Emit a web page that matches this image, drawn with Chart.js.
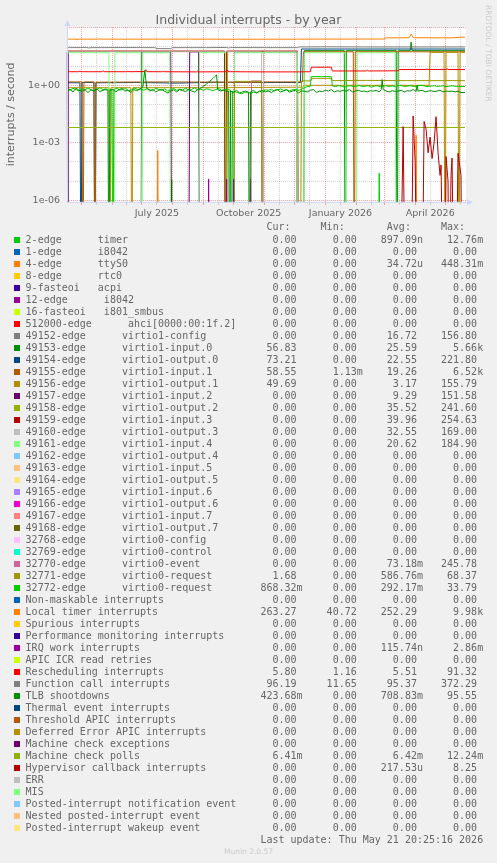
<!DOCTYPE html>
<html><head><meta charset="utf-8">
<script src="https://cdn.jsdelivr.net/npm/chart.js@4/dist/chart.umd.min.js"></script>
<style>
html,body{margin:0;padding:0;background:#f0f0f0;}
body{width:497px;height:863px;position:relative;overflow:hidden;color:#666;font-family:"DejaVu Sans";}
#chartBox{position:absolute;left:0;top:0;width:497px;height:222px;}
#title{position:absolute;left:0;top:12px;width:497px;text-align:center;font:12.5px "DejaVu Sans";line-height:15px;color:#666;white-space:nowrap;}
#rrd{position:absolute;left:484px;top:5px;writing-mode:vertical-rl;font:7.5px "DejaVu Sans";color:#ccc;white-space:nowrap;line-height:8px;}
.row{position:absolute;left:25.6px;font:10px "DejaVu Sans Mono";line-height:12px;white-space:pre;color:#666;}
.sq{position:absolute;left:14px;width:6px;height:6px;}
#munin{position:absolute;left:0;width:497px;top:847px;text-align:center;font:7.5px "DejaVu Sans";color:#ccc;line-height:10px;}
</style></head>
<body>
<div id="chartBox"><canvas id="c" width="497" height="222"></canvas></div>
<div id="title">Individual interrupts - by year</div>
<div id="rrd">RRDTOOL / TOBI OETIKER</div>
<div id="legend"></div>
<div id="munin">Munin 2.0.57</div>
<script>
// ---------- x axis (days since start of the 400-day window, Apr 16 2025 20:25) ----------
const monthStartDays = [14.15, 45.15, 75.15, 106.15, 137.15, 167.15, 198.15, 228.15, 259.15, 290.15, 318.15, 349.15, 379.15];
const midMonthDays   = [29.15, 60.15, 90.15, 121.15, 152.15, 182.15, 213.15, 243.15, 274.15, 305.15, 333.15, 364.15, 394.15];
const xLabelDays = [90.15, 182.15, 274.15, 364.15];
const xLabels = ["July 2025", "October 2025", "January 2026", "April 2026"];
// ---------- y axis ----------
const yDecades = [1e-6, 1e-5, 1e-4, 1e-3, 1e-2, 1e-1, 1, 10, 100, 1000];
const yLabelValues = [1e-6, 1e-3, 1];
const yLabels = ["1e-06", "1e-03", "1e+00"];

// ---------- legend ----------
const seriesNames = [
 "2-edge      timer","1-edge      i8042","4-edge      ttyS0","8-edge      rtc0","9-fasteoi   acpi",
 "12-edge      i8042","16-fasteoi   i801_smbus","512000-edge      ahci[0000:00:1f.2]",
 "49152-edge      virtio1-config","49153-edge      virtio1-input.0","49154-edge      virtio1-output.0",
 "49155-edge      virtio1-input.1","49156-edge      virtio1-output.1","49157-edge      virtio1-input.2",
 "49158-edge      virtio1-output.2","49159-edge      virtio1-input.3","49160-edge      virtio1-output.3",
 "49161-edge      virtio1-input.4","49162-edge      virtio1-output.4","49163-edge      virtio1-input.5",
 "49164-edge      virtio1-output.5","49165-edge      virtio1-input.6","49166-edge      virtio1-output.6",
 "49167-edge      virtio1-input.7","49168-edge      virtio1-output.7","32768-edge      virtio0-config",
 "32769-edge      virtio0-control","32770-edge      virtio0-event","32771-edge      virtio0-request",
 "32772-edge      virtio0-request","Non-maskable interrupts","Local timer interrupts","Spurious interrupts",
 "Performance monitoring interrupts","IRQ work interrupts","APIC ICR read retries","Rescheduling interrupts",
 "Function call interrupts","TLB shootdowns","Thermal event interrupts","Threshold APIC interrupts",
 "Deferred Error APIC interrupts","Machine check exceptions","Machine check polls","Hypervisor callback interrupts",
 "ERR","MIS","Posted-interrupt notification event","Nested posted-interrupt event","Posted-interrupt wakeup event"];
const seriesColors = [
 "#00CC00","#0066B3","#FF8000","#FFCC00","#330099","#990099","#CCFF00","#FF0000","#808080","#008F00",
 "#00487D","#B35A00","#B38F00","#6B006B","#8FB300","#B30000","#BEBEBE","#80FF80","#80C9FF","#FFC080",
 "#FFE680","#AA80FF","#EE00CC","#FF8080","#666600","#FFBFFF","#00FFCC","#CC6699","#999900","#00CC00",
 "#0066B3","#FF8000","#FFCC00","#330099","#990099","#CCFF00","#FF0000","#808080","#008F00","#00487D",
 "#B35A00","#B38F00","#6B006B","#8FB300","#B30000","#BEBEBE","#80FF80","#80C9FF","#FFC080","#FFE680"];
const curValues = ["0.00","0.00","0.00","0.00","0.00","0.00","0.00","0.00","0.00","56.83","73.21","58.55","49.69","0.00","0.00","0.00","0.00","0.00","0.00","0.00","0.00","0.00","0.00","0.00","0.00","0.00","0.00","0.00","1.68","868.32m","0.00","263.27","0.00","0.00","0.00","0.00","5.80","96.19","423.68m","0.00","0.00","0.00","0.00","6.41m","0.00","0.00","0.00","0.00","0.00","0.00"];
const minValues = ["0.00","0.00","0.00","0.00","0.00","0.00","0.00","0.00","0.00","0.00","0.00","1.13m","0.00","0.00","0.00","0.00","0.00","0.00","0.00","0.00","0.00","0.00","0.00","0.00","0.00","0.00","0.00","0.00","0.00","0.00","0.00","40.72","0.00","0.00","0.00","0.00","1.16","11.65","0.00","0.00","0.00","0.00","0.00","0.00","0.00","0.00","0.00","0.00","0.00","0.00"];
const avgValues = ["897.09n","0.00","34.72u","0.00","0.00","0.00","0.00","0.00","16.72","25.59","22.55","19.26","3.17","9.29","35.52","39.96","32.55","20.62","0.00","0.00","0.00","0.00","0.00","0.00","0.00","0.00","0.00","73.18m","586.76m","292.17m","0.00","252.29","0.00","0.00","115.74n","0.00","5.51","95.37","708.83m","0.00","0.00","0.00","0.00","6.42m","217.53u","0.00","0.00","0.00","0.00","0.00"];
const maxValues = ["12.76m","0.00","448.31m","0.00","0.00","0.00","0.00","0.00","156.80","5.66k","221.80","6.52k","155.79","151.58","241.60","254.63","169.00","184.90","0.00","0.00","0.00","0.00","0.00","0.00","0.00","0.00","0.00","245.78","68.37","33.79","0.00","9.98k","0.00","0.00","2.86m","0.00","91.32","372.29","95.55","0.00","0.00","0.00","0.00","12.24m","8.25","0.00","0.00","0.00","0.00","0.00"];
const lastUpdate = "Last update: Thu May 21 20:25:16 2026";

// ---------- series values: [day, interrupts/second] ----------
const zeroSeries = [[0,0],[399,0]];
const edge2Timer = [[0,0],[27,0],[28,1.5e-5],[29,0],[104,0],[105,1.2e-5],[106,0],[312,0],[313,2.6e-5],[314,0],[399,0]];
const edge4Ttys0 = [[0,0],[90,0],[91,4e-4],[92,0],[349,0],[350,2.5e-3],[351,0],[399,0]];
const v49153 = [[0,0],[237,0],[238,64],[278,64],[279,0],[280,64],[330,64],[331,0],[332,64],[344,64],[345,180],[346,64],[399,64]];
const v49154 = [[0,1.35],[13,1.35],[14,0],[15,1.4],[27,1.4],[28,0],[29,1.35],[70,1.4],[110,1.3],[150,1.45],[200,1.4],[234,1.4],[235,78],[399,78]];
const v49155 = [[0,1.5],[15,1.5],[16,0],[17,1.5],[27,1.5],[28,0],[29,1.45],[100,1.5],[158,1.45],[159,0],[160,1.45],[195,1.45],[196,0],[197,1.5],[236,1.5],[237,56],[287,56],[288,0],[289,56],[399,56]];
const v49156 = [[0,0.75],[42,0.75],[43,0],[44,0.75],[64,0.75],[65,0],[66,0.75],[158,0.75],[159,0],[160,0.75],[236,0.8],[238,1.0],[363,1.0],[364,52],[378,52],[379,0],[380,52],[392,52],[393,0],[394,52],[399,52]];
const v49157 = [[0,55],[1,0],[74,0],[75,55],[104,55],[105,0],[122,0],[123,55],[132,55],[133,0],[167,0],[168,55],[230,55],[231,0],[399,0]];
const v49158 = [[0,58],[158,58],[159,0],[160,0],[161,58],[231,58],[232,0],[399,0]];
const v49159 = [[0,61],[158,61],[159,0],[160,61],[231,61],[232,0],[399,0]];
const v49160 = [[0,56],[195,56],[196,0],[197,56],[231,56],[232,0],[399,0]];
const v49161 = [[0,50],[42,50],[43,0],[47,0],[48,50],[74,50],[75,0],[76,50],[103,50],[104,0],[132,0],[133,50],[159,50],[160,0],[167,0],[168,50],[230,50],[231,0],[237,0],[238,50],[279,50],[280,0],[290,0],[291,50],[329,50],[330,0],[399,0]];
const v32770 = [[0,0],[184,0],[185,1.7],[195,1.7],[196,0],[399,0]];
const v32771 = [[0,0],[167,0],[168,1.6],[195,1.6],[196,0],[234,0],[235,1.7],[244,1.7],[245,2.3],[265,2.3],[266,1.75],[300,1.8],[340,1.75],[399,1.75]];
const v32772 = [[0,0.65],[3,0.55],[6,0.7],[9,0.6],[12,0.5],[15,0.68],[18,0.58],[21,0.72],[24,0.6],[27,0.52],[30,0.62],[33,0.75],[36,0.58],[39,0.66],[42,0.55],[45,0.6],[46,0],[47,0.6],[50,0.7],[53,0.55],[56,0.62],[59,0.68],[62,0.52],[65,0.6],[68,0.72],[71,0.58],[74,0.64],[77,0.55],[80,0.66],[83,0.6],[86,0.52],[89,0.7],[92,0.6],[95,0.55],[98,0.65],[101,0.5],[104,0.6],[107,0.68],[110,0.55],[113,0.62],[116,0.58],[119,0.7],[122,0.55],[125,0.6],[128,0.75],[131,0.58],[134,0.62],[137,0.55],[140,0.66],[143,0.6],[146,0.52],[149,0.6],[152,0.68],[155,0.55],[158,0.6],[161,0.62],[164,0.55],[165,0],[166,0.5],[169,0.45],[172,0.4],[175,0.36],[178,0.42],[181,0.45],[184,0.38],[187,0.44],[190,0.4],[193,0.5],[196,0.45],[199,0.58],[202,0.55],[205,0.62],[208,0.5],[211,0.58],[214,0.65],[217,0.55],[220,0.6],[223,0.52],[226,0.58],[229,0.62],[232,0.55],[235,0.6],[238,0.75],[241,0.85],[244,0.9],[245,2.8],[250,2.9],[255,2.8],[260,2.85],[265,2.8],[266,0.95],[269,0.85],[272,0.95],[275,0.9],[278,0.8],[281,0.9],[284,0.95],[287,0.85],[290,0.9],[293,1.0],[296,0.85],[299,0.9],[302,0.95],[305,0.8],[308,0.9],[311,0.95],[314,0.85],[317,0.9],[320,0.95],[323,0.85],[326,0.92],[329,0.88],[332,0.95],[335,1.0],[338,0.85],[341,0.9],[344,0.95],[347,0.88],[350,0.9],[353,0.95],[356,1.0],[359,0.9],[362,0.85],[365,0.92],[368,0.95],[371,0.88],[374,0.9],[377,0.95],[380,0.85],[383,0.9],[386,0.95],[389,0.88],[392,0.9],[395,0.85],[399,0.87]];
const localTimer = [[0,255],[8,258],[10,248],[12,256],[30,256],[32,266],[34,255],[55,257],[57,248],[59,256],[80,255],[95,258],[97,250],[99,256],[120,255],[122,263],[124,255],[150,256],[170,252],[172,260],[174,252],[200,255],[230,254],[232,262],[234,255],[260,258],[285,257],[287,266],[289,258],[318,260],[320,298],[335,300],[343,305],[345,470],[347,305],[365,300],[385,298],[392,315],[396,325],[399,318]];
const irqWork = [[0,0],[141,0],[142,1.3e-5],[143,0],[159,0],[160,1.3e-5],[161,0],[166,0],[167,1.3e-5],[168,0],[183,0],[184,1.3e-5],[185,0],[399,0]];
const rescheduling = [[0,5.1],[12,5.1],[13,5.6],[14,5.1],[35,5.1],[36,5.8],[37,5.1],[60,5.1],[61,5.5],[62,5.1],[78,5.2],[79,6.5],[80,5.1],[95,5.1],[96,5.6],[97,5.1],[130,5.0],[131,5.5],[132,5.0],[160,5.1],[161,6.2],[162,5.1],[200,5.0],[230,5.0],[244,5.1],[245,8.8],[265,8.8],[266,5.6],[300,5.6],[301,6.1],[302,5.6],[332,5.7],[333,6.6],[360,6.7],[361,7.2],[362,6.7],[380,6.7],[381,7.3],[382,6.7],[399,6.6]];
const functionCall = [[0,92],[20,93],[22,88],[24,92],[60,93],[88,92],[90,82],[104,82],[106,92],[140,92],[160,94],[162,88],[164,93],[200,92],[231,92],[233,100],[260,102],[300,100],[399,100]];
const tlbShootdowns = [[0,0.5],[3,0.62],[6,0.45],[9,0.7],[12,0.55],[15,0.48],[18,0.6],[21,0.42],[24,0.58],[27,0.5],[30,0.65],[33,0.47],[36,0.55],[39,0.6],[41,0.5],[42,0],[43,0.55],[46,0.62],[49,0.45],[52,0.58],[55,0.7],[58,0.5],[61,0.55],[64,0.42],[67,0.6],[70,0.52],[73,0.65],[76,0.8],[78,6],[80,0.7],[83,0.5],[86,0.6],[89,0.45],[92,0.55],[95,0.62],[98,0.48],[101,0.4],[104,0.5],[107,0.58],[110,0.45],[113,0.6],[116,0.52],[119,0.48],[122,0.62],[125,0.5],[128,0.45],[131,0.6],[134,0.7],[137,0.9],[140,1.2],[143,1.6],[146,2.2],[148,2.8],[150,3.5],[151,0.6],[154,0.5],[157,0.55],[160,0.48],[162,0.5],[163,0],[164,0.5],[167,0.42],[170,0.55],[173,0.4],[176,0.45],[179,0.5],[182,0.42],[183,0],[184,0.45],[187,0.55],[190,0.4],[193,0.48],[196,0.52],[199,0.45],[202,0.5],[205,0.42],[208,0.55],[211,0.6],[214,0.45],[217,0.5],[220,0.58],[223,0.44],[226,0.5],[229,0.55],[232,0.4],[235,0.5],[238,0.5],[241,0.45],[244,0.55],[247,0.6],[250,0.42],[253,0.5],[256,0.47],[259,0.55],[262,0.5],[265,0.6],[268,0.45],[271,0.52],[274,0.48],[277,0.55],[280,0.5],[283,0.6],[286,0.45],[289,0.5],[292,0.55],[295,0.48],[298,0.5],[301,0.45],[304,0.52],[307,0.5],[310,0.55],[313,0.45],[315,0.6],[316,2.0],[317,0.6],[320,0.5],[323,0.45],[326,0.52],[329,0.48],[332,0.5],[335,0.55],[338,0.45],[341,0.52],[344,0.5],[347,0.6],[350,0.48],[351,1.0],[352,0.5],[356,0.55],[359,0.45],[362,0.5],[365,0.52],[368,0.47],[371,0.5],[374,0.55],[377,0.45],[380,0.5],[383,0.48],[386,0.5],[389,0.45],[392,0.5],[395,0.42],[399,0.42]];
const machineCheckPolls = [[0,0.0063],[399,0.0063]];
const hypervisorCallback = [[0,0],[334,0],[337,0.007],[339,0],[345,0],[347,0.025],[349,1e-4],[351,0],[356,0],[358,0.013],[360,0.005],[362,3e-4],[364,0.002],[366,1.5e-4],[368,0.001],[370,0.023],[372,3e-4],[374,2e-5],[375,7e-5],[377,0],[379,0],[380,1.9e-4],[382,1e-5],[383,0],[385,2e-5],[386,1.6e-4],[388,0],[390,0],[392,2.8e-4],[394,5e-5],[395,2e-5],[396,0],[399,0]];

const seriesData = [
 edge2Timer, zeroSeries, edge4Ttys0, zeroSeries, zeroSeries, zeroSeries, zeroSeries, zeroSeries,
 zeroSeries, v49153, v49154, v49155, v49156, v49157, v49158, v49159, v49160, v49161,
 zeroSeries, zeroSeries, zeroSeries, zeroSeries, zeroSeries, zeroSeries, zeroSeries, zeroSeries, zeroSeries,
 v32770, v32771, v32772,
 zeroSeries, localTimer, zeroSeries, zeroSeries, irqWork, zeroSeries, rescheduling, functionCall, tlbShootdowns,
 zeroSeries, zeroSeries, zeroSeries, zeroSeries, machineCheckPolls, hypervisorCallback,
 zeroSeries, zeroSeries, zeroSeries, zeroSeries, zeroSeries];

// ---------- legend DOM ----------
(function(){
  const lg = document.getElementById('legend');
  function field(s){ let suf=' ', num=s; const last=s[s.length-1]; if(/[a-zA-Z]/.test(last)){suf=last;num=s.slice(0,-1);} return num.padStart(6,' ')+suf; }
  function addRow(text, top){ const d=document.createElement('div'); d.className='row'; d.style.top=top+'px'; d.textContent=text; lg.appendChild(d); }
  addRow(' '.repeat(40)+'Cur:'+' '.repeat(5)+'Min:'+' '.repeat(7)+'Avg:'+' '.repeat(5)+'Max:', 221);
  seriesNames.forEach((n,i)=>{
    const c = 240 + 12*i;
    const sq=document.createElement('div'); sq.className='sq'; sq.style.top=(c-3)+'px'; sq.style.background=seriesColors[i]; lg.appendChild(sq);
    addRow(n.padEnd(39,' ')+field(curValues[i])+'   '+field(minValues[i])+'   '+field(avgValues[i])+'   '+field(maxValues[i]), c-6);
  });
  addRow(' '.repeat(39)+lastUpdate, 240+12*50-6);
})();

// ---------- chart ----------
const MAJOR = 'rgba(255,0,0,0.38)', MINOR = 'rgba(128,128,128,0.35)', AXIS = '#CFD6F8';
const isMonthStart = v => monthStartDays.some(m => Math.abs(m - v) < 0.01);
const isMajorY = v => yLabelValues.some(m => Math.abs(Math.log10(m) - Math.log10(v)) < 1e-6) || Math.abs(v-1000)<1e-6;

const bgPlugin = {
  id: 'bg',
  beforeDraw(ch){ const a=ch.chartArea, c=ch.ctx; c.save(); c.fillStyle='#fff'; c.fillRect(a.left,a.top,a.right-a.left,a.bottom-a.top); c.restore(); },
  afterDraw(ch){ const a=ch.chartArea, c=ch.ctx; c.save(); c.strokeStyle=AXIS; c.fillStyle=AXIS; c.lineWidth=1;
    c.beginPath(); c.moveTo(a.left+0.5, a.bottom); c.lineTo(a.left+0.5, a.top-3); c.stroke();
    c.beginPath(); c.moveTo(a.left, a.bottom+0.5); c.lineTo(a.right+3, a.bottom+0.5); c.stroke();
    c.beginPath(); c.moveTo(a.left+0.5, a.top-7); c.lineTo(a.left-2.5, a.top-1); c.lineTo(a.left+3.5, a.top-1); c.closePath(); c.fill();
    c.beginPath(); c.moveTo(a.right+7, a.bottom+0.5); c.lineTo(a.right+1, a.bottom-2.5); c.lineTo(a.right+1, a.bottom+3.5); c.closePath(); c.fill();
    c.restore(); }
};

const datasets = seriesData.map((pts, i) => ({
  label: seriesNames[i],
  data: pts.map(p => ({x: p[0], y: p[1] === 0 ? 1e-12 : p[1]})),
  borderColor: seriesColors[i], backgroundColor: seriesColors[i],
  borderWidth: 1, pointRadius: 0, tension: 0, fill: false, order: -i, clip: 0.5
}));

new Chart(document.getElementById('c'), {
  type: 'line',
  data: { datasets },
  plugins: [bgPlugin],
  options: {
    responsive: false, animation: false, devicePixelRatio: 1,
    layout: { padding: { left: 0, right: 31, top: 27, bottom: 0 } },
    plugins: { legend: { display: false }, tooltip: { enabled: false }, title: { display: false } },
    scales: {
      x: {
        type: 'linear', min: 0, max: 400,
        afterBuildTicks: s => { s.ticks = monthStartDays.concat(midMonthDays).sort((a,b)=>a-b).map(v => ({value: v})); },
        afterFit: s => { s.height = 20.2; },
        grid: { color: ctx => (ctx.tick && isMonthStart(ctx.tick.value)) ? MAJOR : MINOR, lineWidth: 1, drawTicks: true, tickLength: 3,
                tickColor: ctx => (ctx.tick && isMonthStart(ctx.tick.value)) ? MAJOR : MINOR },
        border: { display: false, dash: [1,1] },
        ticks: { autoSkip: false, maxRotation: 0, minRotation: 0, padding: 3.5, color: '#666',
                 font: { family: 'DejaVu Sans', size: 9.5 },
                 callback: v => { const k = xLabelDays.findIndex(d => Math.abs(d - v) < 0.01); return k >= 0 ? xLabels[k] : ''; } }
      },
      y: {
        type: 'logarithmic', min: 8.35e-7, max: 1100,
        afterBuildTicks: s => { s.ticks = yDecades.map(v => ({value: v})); },
        afterFit: s => { s.width = 67; },
        grid: { color: ctx => (ctx.tick && isMajorY(ctx.tick.value)) ? MAJOR : MINOR, lineWidth: 1, drawTicks: false },
        border: { display: false, dash: [1,1] },
        ticks: { autoSkip: false, padding: 7, color: '#666', font: { family: 'DejaVu Sans', size: 9.5 },
                 callback: v => { const k = yLabelValues.findIndex(m => Math.abs(Math.log10(m) - Math.log10(v)) < 1e-6); return k >= 0 ? yLabels[k] : ''; } },
        title: { display: true, text: 'interrupts / second', color: '#666', font: { family: 'DejaVu Sans', size: 11 }, padding: { top: 4.5, bottom: 0 } }
      }
    }
  }
});
</script>
</body></html>
